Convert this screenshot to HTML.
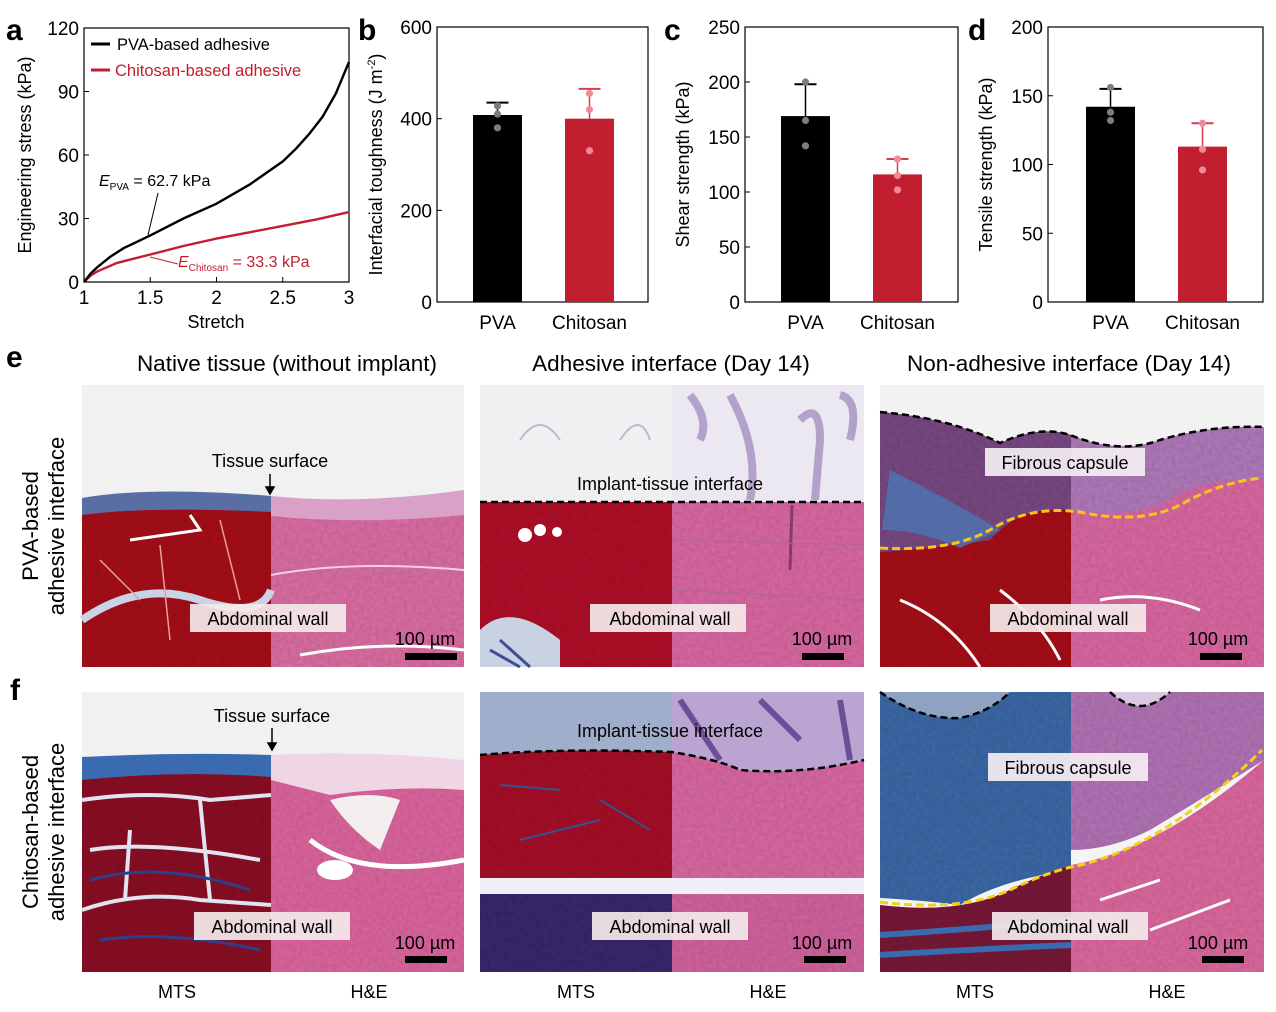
<!DOCTYPE html>
<html><head><meta charset="utf-8">
<style>
html,body{margin:0;padding:0;background:#fff;}
body{width:1276px;height:1007px;overflow:hidden;font-family:"Liberation Sans",Arial,sans-serif;}
svg text{font-family:"Liberation Sans",Arial,sans-serif;}
</style></head>
<body>
<svg id="fig" width="1276" height="1007" viewBox="0 0 1276 1007" xmlns="http://www.w3.org/2000/svg">
<defs>
<filter id="tex" x="0" y="0" width="100%" height="100%">
<feTurbulence type="fractalNoise" baseFrequency="0.25" numOctaves="2" seed="3" result="n"/>
<feColorMatrix in="n" type="matrix" values="0 0 0 0 0  0 0 0 0 0  0 0 0 0 0  0 0 0 0.3 0" result="d"/>
<feComposite in="d" in2="SourceGraphic" operator="in" result="dd"/>
<feMerge><feMergeNode in="SourceGraphic"/><feMergeNode in="dd"/></feMerge>
</filter>
</defs>

<g font-weight="bold" font-size="30" fill="#000" font-family="Liberation Sans">
<text x="6" y="40">a</text>
<text x="358" y="40">b</text>
<text x="664" y="40">c</text>
<text x="968" y="40">d</text>
<text x="6" y="367">e</text>
<text x="10" y="700">f</text>
</g>

<g id="charts"></g>

<g font-size="22.5" fill="#000" text-anchor="middle">
<text x="287" y="371">Native tissue (without implant)</text>
<text x="671" y="371">Adhesive interface (Day 14)</text>
<text x="1069" y="371">Non-adhesive interface (Day 14)</text>
</g>

<g font-size="22" fill="#000" text-anchor="middle">
<text transform="translate(38,526) rotate(-90)">PVA-based</text>
<text transform="translate(64,526) rotate(-90)">adhesive interface</text>
<text transform="translate(38,832) rotate(-90)">Chitosan-based</text>
<text transform="translate(64,832) rotate(-90)">adhesive interface</text>
</g>

<g>
<rect x="82" y="385" width="382" height="282" fill="#f1f1f1"/>
<rect x="82" y="500" width="189" height="167" fill="#a8161f" filter="url(#tex)"/>
<rect x="271" y="505" width="193" height="162" fill="#de70a5" filter="url(#tex)"/>
<path d="M82,498 Q150,486 271,496 L271,512 Q150,506 82,515Z" fill="#5a6ea6"/>
<path d="M271,496 Q360,505 464,490 L464,515 Q360,525 271,516Z" fill="#d9a0c8"/>
<path d="M130,540 L200,530 L190,515" stroke="#fff" stroke-width="3" fill="none"/>
<path d="M82,620 Q140,580 200,600 T271,590" stroke="#c8d3e6" stroke-width="8" fill="none"/>
<path d="M271,575 Q350,560 464,570" stroke="#f4d0e4" stroke-width="2" fill="none"/>
<path d="M300,655 Q380,640 464,650" stroke="#fff" stroke-width="3" fill="none"/>
<path d="M100,560 L140,600 M160,545 L170,640 M220,520 L240,600" stroke="#e8a0a0" stroke-width="1.5" fill="none"/>
</g>

<g>
<rect x="480" y="385" width="384" height="282" fill="#f0f0f3"/>
<rect x="672" y="385" width="192" height="117" fill="#ebe8f2"/>
<path d="M690,395 Q710,420 700,440 M730,395 Q760,450 750,500 M800,420 Q820,400 820,440 L815,500 M840,395 Q860,400 850,440" stroke="#9a84bb" stroke-width="8" fill="none" opacity="0.7"/>
<path d="M520,440 Q540,410 560,440 M620,440 Q640,410 650,440" stroke="#b8bcc8" stroke-width="2" fill="none"/>
<rect x="480" y="502" width="192" height="165" fill="#b2152a" filter="url(#tex)"/>
<rect x="672" y="502" width="192" height="165" fill="#dc6aa4" filter="url(#tex)"/>
<circle cx="525" cy="535" r="7" fill="#fff"/><circle cx="540" cy="530" r="6" fill="#fff"/><circle cx="557" cy="532" r="5" fill="#fff"/>
<path d="M480,630 Q510,600 560,640 L560,667 L480,667Z" fill="#c9d2e3"/>
<path d="M500,640 L530,667 M490,650 L520,667" stroke="#3d4f92" stroke-width="3"/>
<path d="M792,505 L790,570" stroke="#8a3a6a" stroke-width="3"/>
<path d="M672,540 L864,545 M672,590 L864,600" stroke="#b36399" stroke-width="1" fill="none"/>
<line x1="480" y1="502" x2="864" y2="502" stroke="#000" stroke-width="2.5" stroke-dasharray="7,4"/>
</g>

<g>
<rect x="880" y="385" width="384" height="282" fill="#f2f2f2"/>
<path d="M880,412 Q950,418 1000,443 Q1040,425 1071,435 L1071,667 L880,667Z" fill="#a8161f" filter="url(#tex)"/>
<path d="M1071,435 Q1120,455 1160,440 Q1210,425 1264,427 L1264,667 L1071,667Z" fill="#dc6aa4" filter="url(#tex)"/>
<path d="M880,412 Q950,418 1000,443 Q1040,425 1071,435 L1071,510 Q1020,505 990,540 Q940,548 880,552Z" fill="#7a4c84" filter="url(#tex)"/>
<path d="M890,470 Q950,500 1000,530 L960,548 Q920,530 882,530Z" fill="#4a7ab8" opacity="0.75"/>
<path d="M1071,435 Q1120,455 1160,440 Q1210,425 1264,427 L1264,480 Q1200,478 1170,500 Q1130,520 1071,510Z" fill="#b27bbc" filter="url(#tex)"/>
<path d="M900,600 Q950,620 980,667 M1000,590 Q1040,620 1060,660 M1100,600 Q1150,590 1200,610" stroke="#fff" stroke-width="3" fill="none"/>
<path d="M880,412 Q950,418 1000,443 Q1040,425 1070,435 Q1120,455 1160,440 Q1210,425 1264,427" stroke="#000" stroke-width="2.5" stroke-dasharray="7,4" fill="none"/>
<path d="M880,548 Q950,552 990,530 Q1030,505 1080,512 Q1140,525 1180,505 Q1220,482 1262,478" stroke="#f5c518" stroke-width="3" stroke-dasharray="8,4" fill="none"/>
</g>

<g>
<rect x="82" y="692" width="382" height="280" fill="#f1f1f1"/>
<rect x="82" y="770" width="189" height="202" fill="#8c1526" filter="url(#tex)"/>
<path d="M82,757 Q180,752 271,755 L271,777 Q180,770 82,780Z" fill="#3a6ab0"/>
<rect x="271" y="760" width="193" height="212" fill="#df68a0" filter="url(#tex)"/>
<path d="M271,755 Q360,750 464,760 L464,790 Q400,785 330,795 L271,780Z" fill="#f0d6e4"/>
<path d="M330,800 Q350,830 380,850 L400,800 Q370,790 330,800Z" fill="#f3eef0"/>
<path d="M310,840 Q360,880 464,860" stroke="#fff" stroke-width="5" fill="none"/>
<ellipse cx="335" cy="870" rx="18" ry="10" fill="#fff"/>
<path d="M82,800 Q150,790 210,800 L271,795 M90,850 Q150,840 260,860 M82,910 Q140,890 200,900 L271,905 M130,830 L125,900 M200,800 L210,900" stroke="#dfe4f0" stroke-width="4" fill="none"/>
<path d="M90,880 Q160,860 250,890 M100,940 Q170,930 260,950" stroke="#2d3f8a" stroke-width="3" fill="none"/>
</g>

<g>
<rect x="480" y="692" width="192" height="280" fill="#9eaecb"/>
<rect x="672" y="692" width="192" height="280" fill="#b9a4d2"/>
<path d="M680,700 L720,760 M760,700 L800,740 M840,700 L850,760" stroke="#6d4f98" stroke-width="6" fill="none"/>
<path d="M480,755 Q560,748 672,752 L672,880 L480,880Z" fill="#a8152a" filter="url(#tex)"/>
<path d="M672,752 Q720,760 740,770 Q800,775 864,760 L864,880 L672,880Z" fill="#dc6aa4" filter="url(#tex)"/>
<rect x="480" y="878" width="384" height="16" fill="#eef0f5"/>
<rect x="480" y="894" width="192" height="78" fill="#3b2a6e" filter="url(#tex)"/>
<rect x="672" y="894" width="192" height="78" fill="#d565a0" filter="url(#tex)"/>
<path d="M500,785 L560,790 M520,840 L600,820 M600,800 L650,830" stroke="#3a5090" stroke-width="2" fill="none"/>
<path d="M480,755 Q560,748 672,752 Q720,760 740,770 Q800,775 864,760" stroke="#000" stroke-width="2.5" stroke-dasharray="7,4" fill="none"/>
</g>

<g>
<rect x="880" y="692" width="384" height="280" fill="#f4f4f6"/>
<path d="M880,692 L1071,692 L1071,870 Q1000,880 960,905 Q920,900 880,898Z" fill="#3e6aa8" filter="url(#tex)"/>
<path d="M880,692 Q920,720 960,718 Q990,712 1010,692Z" fill="#8fa2c2"/>
<path d="M1071,692 L1264,692 L1264,760 Q1200,800 1150,830 Q1110,850 1071,850Z" fill="#b476b8" filter="url(#tex)"/>
<path d="M1110,692 Q1140,720 1170,692Z" fill="#d8c8e0"/>
<path d="M880,905 Q960,915 1010,890 Q1040,875 1071,865 Q1160,850 1264,760 L1264,972 L880,972Z" fill="#df6aa0" filter="url(#tex)"/>
<path d="M880,905 Q960,915 1010,890 Q1040,875 1071,865 L1071,972 L880,972Z" fill="#7a1a3a" filter="url(#tex)"/>
<path d="M880,935 Q960,930 1071,920 M880,955 Q960,950 1071,945" stroke="#3a6ab0" stroke-width="6" fill="none"/>
<path d="M1100,900 L1160,880 M1150,930 L1230,900" stroke="#fff" stroke-width="3" fill="none"/>
<path d="M880,692 Q920,720 960,718 Q990,712 1010,692 M1110,692 Q1140,720 1170,692" stroke="#000" stroke-width="2.5" stroke-dasharray="7,4" fill="none"/>
<path d="M880,902 Q960,912 1010,890 Q1040,875 1071,867 Q1160,850 1262,750" stroke="#f5d018" stroke-width="3" stroke-dasharray="8,4" fill="none"/>
</g>

<g font-size="18" fill="#000" text-anchor="middle">
<rect x="190" y="604" width="156" height="28" fill="#f4e9ea" opacity="0.92"/>
<text x="268" y="625">Abdominal wall</text>
<rect x="590" y="604" width="156" height="28" fill="#f4e9ea" opacity="0.92"/>
<text x="670" y="625">Abdominal wall</text>
<rect x="990" y="604" width="156" height="28" fill="#f4e9ea" opacity="0.92"/>
<text x="1068" y="625">Abdominal wall</text>
<rect x="985" y="448" width="160" height="28" fill="#f4eef2" opacity="0.92"/>
<text x="1065" y="469">Fibrous capsule</text>
<text x="670" y="490">Implant-tissue interface</text>
<text x="270" y="467">Tissue surface</text>
<rect x="194" y="912" width="156" height="28" fill="#f4e9ea" opacity="0.92"/>
<text x="272" y="933">Abdominal wall</text>
<rect x="592" y="912" width="156" height="28" fill="#f4e9ea" opacity="0.92"/>
<text x="670" y="933">Abdominal wall</text>
<rect x="992" y="912" width="156" height="28" fill="#f4e9ea" opacity="0.92"/>
<text x="1068" y="933">Abdominal wall</text>
<rect x="988" y="753" width="160" height="28" fill="#f4eef2" opacity="0.92"/>
<text x="1068" y="774">Fibrous capsule</text>
<text x="670" y="737">Implant-tissue interface</text>
<text x="272" y="722">Tissue surface</text>
</g>
<g stroke="#000" stroke-width="1.5" fill="#000">
<line x1="270" y1="474" x2="270" y2="490"/><path d="M266,487 L270,494 L274,487Z"/>
<line x1="272" y1="728" x2="272" y2="746"/><path d="M268,743 L272,750 L276,743Z"/>
</g>
<g font-size="18" fill="#000" text-anchor="middle">
<text x="425" y="645">100 µm</text>
<rect x="405" y="653" width="52" height="7"/>
<text x="822" y="645">100 µm</text>
<rect x="802" y="653" width="42" height="7"/>
<text x="1218" y="645">100 µm</text>
<rect x="1200" y="653" width="42" height="7"/>
<text x="425" y="949">100 µm</text>
<rect x="405" y="956" width="42" height="7"/>
<text x="822" y="949">100 µm</text>
<rect x="804" y="956" width="42" height="7"/>
<text x="1218" y="949">100 µm</text>
<rect x="1202" y="956" width="42" height="7"/>
</g>
<g font-size="18" fill="#000" text-anchor="middle">
<text x="177" y="998">MTS</text>
<text x="369" y="998">H&amp;E</text>
<text x="576" y="998">MTS</text>
<text x="768" y="998">H&amp;E</text>
<text x="975" y="998">MTS</text>
<text x="1167" y="998">H&amp;E</text>
</g>
</svg>

<script>
var stretchPVA = [1, 1.05, 1.1, 1.2, 1.3, 1.4, 1.5, 1.75, 2, 2.25, 2.5, 2.6, 2.7, 2.8, 2.9, 3];
var stressPVA = [0, 4, 7, 12, 16, 19, 22, 30, 37, 46, 57, 63, 70, 78, 89, 104];
var stretchChi = [1, 1.05, 1.1, 1.25, 1.5, 1.75, 2, 2.25, 2.5, 2.75, 3];
var stressChi = [0, 3, 5, 9, 13, 17, 20.5, 23.5, 26.5, 29.5, 33];
var aXTicks = [1, 1.5, 2, 2.5, 3];
var aYTicks = [0, 30, 60, 90, 120];
var barCats = ["PVA", "Chitosan"];
var toughMean = [408, 400];
var toughErr = [435, 465];
var toughPtsPVA = [428, 410, 380];
var toughPtsChi = [455, 420, 330];
var toughTicks = [0, 200, 400, 600];
var shearMean = [169, 116];
var shearErr = [198, 130];
var shearPtsPVA = [200, 165, 142];
var shearPtsChi = [130, 115, 102];
var shearTicks = [0, 50, 100, 150, 200, 250];
var tensileMean = [142, 113];
var tensileErr = [155, 130];
var tensilePtsPVA = [156, 138, 132];
var tensilePtsChi = [130, 111, 96];
var tensileTicks = [0, 50, 100, 150, 200];

var NS = "http://www.w3.org/2000/svg";
var root = document.getElementById("charts");
function mk(tag, attrs, parent, txt) {
  var e = document.createElementNS(NS, tag);
  for (var k in attrs) e.setAttribute(k, attrs[k]);
  if (txt !== undefined) e.textContent = txt;
  (parent || root).appendChild(e);
  return e;
}

(function () {
  var L = 84, R = 349, T = 28, B = 282;
  function sx(v) { return L + (v - 1) / 2 * (R - L); }
  function sy(v) { return B - v / 120 * (B - T); }
  var g = mk("g", {});
  
  
  var fr = mk("rect", { x: L, y: T, width: R - L, height: B - T, fill: "none", stroke: "#000", "stroke-width": 1.2 }, g);
  
  
  aXTicks.forEach(function (t) {
    mk("line", { x1: sx(t), y1: B, x2: sx(t), y2: B - 5, stroke: "#000" }, g);
    var tx = mk("text", { x: sx(t), y: B + 22, "font-size": 19, "text-anchor": "middle" }, g, t);
    
    
  });
  aYTicks.forEach(function (t) {
    mk("line", { x1: L, y1: sy(t), x2: L + 5, y2: sy(t), stroke: "#000" }, g);
    var tx = mk("text", { x: L - 5, y: sy(t) + 7, "font-size": 19, "text-anchor": "end" }, g, t);
    
    
  });
  var xt = mk("text", { x: 216, y: 328, "font-size": 18, "text-anchor": "middle" }, g, "Stretch");
  
  
  var yt = mk("text", { transform: "translate(31,155) rotate(-90)", "font-size": 18, "text-anchor": "middle" }, g, "Engineering stress (kPa)");
  
  
  function line(xs, ys, col, name) {
    var d = xs.map(function (x, i) { return (i ? "L" : "M") + sx(x).toFixed(1) + "," + sy(ys[i]).toFixed(1); }).join(" ");
    var p = mk("path", { d: d, stroke: col, "stroke-width": 2.4, fill: "none" }, g);
    
    
  }
  line(stretchChi, stressChi, "#c11f2f", "line-chitosan");
  line(stretchPVA, stressPVA, "#000", "line-pva");
  mk("line", { x1: 91, y1: 44, x2: 110, y2: 44, stroke: "#000", "stroke-width": 3 }, g);
  var l1 = mk("text", { x: 117, y: 50, "font-size": 16.5 }, g, "PVA-based adhesive");
  
  
  mk("line", { x1: 91, y1: 70, x2: 110, y2: 70, stroke: "#c11f2f", "stroke-width": 3 }, g);
  var l2 = mk("text", { x: 115, y: 76, "font-size": 16.5, fill: "#c11f2f" }, g, "Chitosan-based adhesive");
  
  
  mk("line", { x1: 158, y1: 193, x2: 148, y2: 235, stroke: "#000", "stroke-width": 1 }, g);
  var a1 = mk("text", { x: 99, y: 186, "font-size": 16 }, g);
  a1.innerHTML = '<tspan font-style="italic">E</tspan><tspan font-size="10" dy="4">PVA</tspan><tspan dy="-4"> = 62.7 kPa</tspan>';
  
  
  mk("line", { x1: 150, y1: 257, x2: 178, y2: 264, stroke: "#c11f2f", "stroke-width": 1 }, g);
  var a2 = mk("text", { x: 178, y: 267, "font-size": 16, fill: "#c11f2f" }, g);
  a2.innerHTML = '<tspan font-style="italic">E</tspan><tspan font-size="10" dy="4">Chitosan</tspan><tspan dy="-4"> = 33.3 kPa</tspan>';
  
  
})();

function barChart(cfg) {
  var L = cfg.L, R = cfg.R, T = 27, B = 302;
  function sy(v) { return B - v / cfg.max * (B - T); }
  var g = mk("g", {});
  
  
  var fr = mk("rect", { x: L, y: T, width: R - L, height: B - T, fill: "none", stroke: "#000", "stroke-width": 1.2 }, g);
  
  
  cfg.ticks.forEach(function (t) {
    mk("line", { x1: L, y1: sy(t), x2: L + 5, y2: sy(t), stroke: "#000" }, g);
    var tx = mk("text", { x: L - 5, y: sy(t) + 7, "font-size": 19, "text-anchor": "end" }, g, t);
    
    
  });
  var yt = mk("text", { transform: "translate(" + cfg.titleX + "," + ((T + B) / 2) + ") rotate(-90)", "font-size": 18, "text-anchor": "middle" }, g);
  yt.innerHTML = cfg.title;
  
  
  var cols = ["#000", "#c11f2f"], dotc = ["#7d7d7d", "#f08a98"], errc = ["#000", "#d2404e"];
  var pts = [cfg.ptsA, cfg.ptsB];
  barCats.forEach(function (c, i) {
    var x0 = cfg.barX[i], w = 49, cx = x0 + w / 2;
    var r = mk("rect", { x: x0, y: sy(cfg.mean[i]), width: w, height: B - sy(cfg.mean[i]), fill: cols[i] }, g);
    
    
    var el = mk("line", { x1: cx, y1: sy(cfg.mean[i]), x2: cx, y2: sy(cfg.err[i]), stroke: errc[i], "stroke-width": 1.5 }, g);
    
    
    mk("line", { x1: cx - 11, y1: sy(cfg.err[i]), x2: cx + 11, y2: sy(cfg.err[i]), stroke: errc[i], "stroke-width": 2 }, g);
    pts[i].forEach(function (p) {
      var d = mk("circle", { cx: cx, cy: sy(p), r: 3.6, fill: dotc[i] }, g);
      
      
    });
    var tx = mk("text", { x: cx, y: B + 27, "font-size": 19, "text-anchor": "middle" }, g, c);
    
    
  });
}
barChart({ name: "chart-b-toughness", L: 437, R: 648, max: 600, ticks: toughTicks, mean: toughMean, err: toughErr, ptsA: toughPtsPVA, ptsB: toughPtsChi, barX: [473, 565], titleX: 382, title: 'Interfacial toughness (J m<tspan font-size="11" dy="-7">-2</tspan><tspan dy="7">)</tspan>' });
barChart({ name: "chart-c-shear", L: 745, R: 958, max: 250, ticks: shearTicks, mean: shearMean, err: shearErr, ptsA: shearPtsPVA, ptsB: shearPtsChi, barX: [781, 873], titleX: 689, title: "Shear strength (kPa)" });
barChart({ name: "chart-d-tensile", L: 1048, R: 1263, max: 200, ticks: tensileTicks, mean: tensileMean, err: tensileErr, ptsA: tensilePtsPVA, ptsB: tensilePtsChi, barX: [1086, 1178], titleX: 992, title: "Tensile strength (kPa)" });
</script>
</body></html>
